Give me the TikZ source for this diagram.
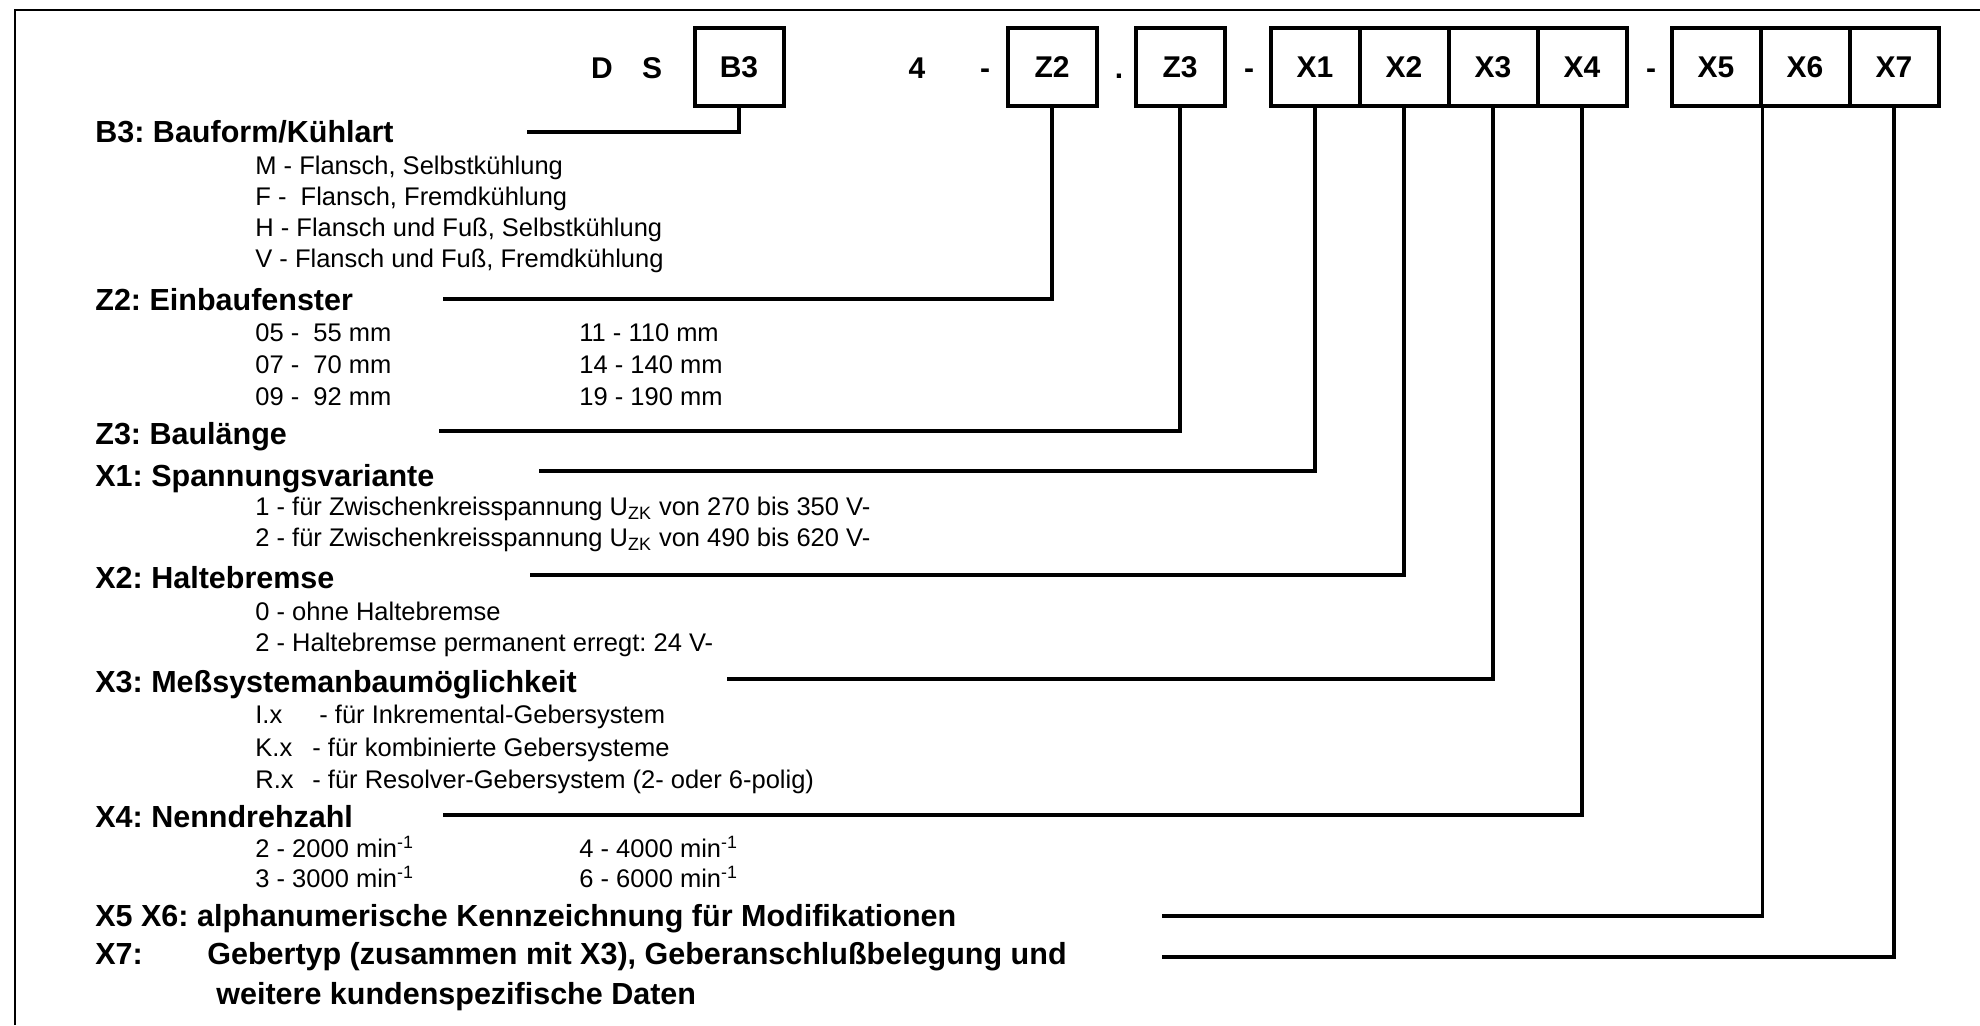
\documentclass[tikz,border=0pt]{standalone}
\usepackage{fontspec}
\setmainfont{Liberation Sans}
\usepackage{tikz}
\usetikzlibrary{positioning,calc}
\tikzset{
  codebox/.style ={draw, line width=2pt, minimum width=44.5pt, minimum height=39pt,
                   inner sep=0pt, font=\bfseries\fontsize{15}{18}\selectfont},
  sepmark/.style ={anchor=base, inner sep=0pt, font=\bfseries\fontsize{15}{18}\selectfont},
  headtxt/.style ={anchor=base west, inner sep=0pt, font=\bfseries\fontsize{15.25}{18}\selectfont},
  itemtxt/.style ={anchor=base west, inner sep=0pt, font=\fontsize{12.75}{15}\selectfont},
  leader/.style  ={line width=1.6pt},
  rim/.style     ={line width=1pt},
}
\newcommand{\minv}{min\textsuperscript{-1}}
\newcommand{\uzk}{U\textsubscript{ZK}}
\newcommand{\lbx}[2]{\makebox[#1][l]{#2}}
\frenchspacing

\begin{document}
\begin{tikzpicture}[x=0.5pt,y=-0.5pt]
  \useasboundingbox (0,0) rectangle (1980,1025);
  \draw[rim] (15,1025) |- (1980,10);

  % type code row
  \foreach \n/\cx in {B3/739, Z2/1052, Z3/1180, X1/1315, X2/1404, X3/1493, X4/1582,
                      X5/1716, X6/1805, X7/1894}
    \node[codebox] (\n) at (\cx,67) {\n};
  \foreach \s/\sx [count=\k] in {D/602, S/652, 4/917, -/985, ./1119, -/1249, -/1651}
    \node[sepmark] (sep\k) at (\sx,78) {\s};

  % headings
  \node[headtxt] (hB3) at (95,142) {B3: Bauform/Kühlart};
  \node[headtxt] (hZ2) at (95,310) {Z2: Einbaufenster};
  \node[headtxt] (hZ3) at (95,444) {Z3: Baulänge};
  \node[headtxt] (hX1) at (95,486) {X1: Spannungsvariante};
  \node[headtxt] (hX2) at (95,588) {X2: Haltebremse};
  \node[headtxt] (hX3) at (95,692) {X3: Meßsystemanbaumöglichkeit};
  \node[headtxt] (hX4) at (95,827) {X4: Nenndrehzahl};
  \node[headtxt] (hX5) at (95,926) {X5 X6: alphanumerische Kennzeichnung für Modifikationen};
  \node[headtxt] (hX7) at (95,964) {X7:};
  \node[headtxt] (hX7a) at (207,964) {Gebertyp (zusammen mit X3), Geberanschlußbelegung und};
  \node[headtxt] (hX7b) at (216,1004) {weitere kundenspezifische Daten};

  % option lists
  \foreach \txt [count=\k] in {{M - Flansch, Selbstkühlung},
                               {F - \ Flansch, Fremdkühlung},
                               {H - Flansch und Fuß, Selbstkühlung},
                               {V - Flansch und Fuß, Fremdkühlung}}
    \node[itemtxt] (iB3\k) at (255,{174+31.3*(\k-1)}) {\txt};
  \foreach \a/\b [count=\k] in {{05 - \ 55 mm}/{11 - 110 mm},
                                {07 - \ 70 mm}/{14 - 140 mm},
                                {09 - \ 92 mm}/{19 - 190 mm}}{
    \node[itemtxt] (iZ2\k) at (255,{341+32*(\k-1)}) {\a};
    \node[itemtxt] (jZ2\k) at (579,{341+32*(\k-1)}) {\b};
  }
  \node[itemtxt] (iX11) at (255,515) {1 - für Zwischenkreisspannung \uzk{} von 270 bis 350 V-};
  \node[itemtxt] (iX12) at (255,546) {2 - für Zwischenkreisspannung \uzk{} von 490 bis 620 V-};
  \node[itemtxt] (iX21) at (255,620) {0 - ohne Haltebremse};
  \node[itemtxt] (iX22) at (255,651) {2 - Haltebremse permanent erregt: 24 V-};
  \node[itemtxt] (iX31) at (255,723) {\lbx{32pt}{I.x}- für Inkremental-Gebersystem};
  \node[itemtxt] (iX32) at (255,756) {\lbx{28.5pt}{K.x}- für kombinierte Gebersysteme};
  \node[itemtxt] (iX33) at (255,788) {\lbx{28.5pt}{R.x}- für Resolver-Gebersystem (2- oder 6-polig)};
  \node[itemtxt] (iX41) at (255,857) {2 - 2000 \minv};
  \node[itemtxt] (jX41) at (579,857) {4 - 4000 \minv};
  \node[itemtxt] (iX42) at (255,887) {3 - 3000 \minv};
  \node[itemtxt] (jX42) at (579,887) {6 - 6000 \minv};

  % leaders from the headings up to the code boxes
  \foreach \n/\lx/\ly in {B3/527/132, Z2/443/299, Z3/439/431, X1/539/471, X2/530/575,
                          X3/727/679, X4/443/815, X7/1162/957}{
    \coordinate (l\n) at (\lx,\ly);
    \draw[leader] (l\n) -| (\n.south);
  }
  \coordinate (lX5) at (1162,916);
  \draw[leader] (lX5) -| (X5.south east);
\end{tikzpicture}
\end{document}
